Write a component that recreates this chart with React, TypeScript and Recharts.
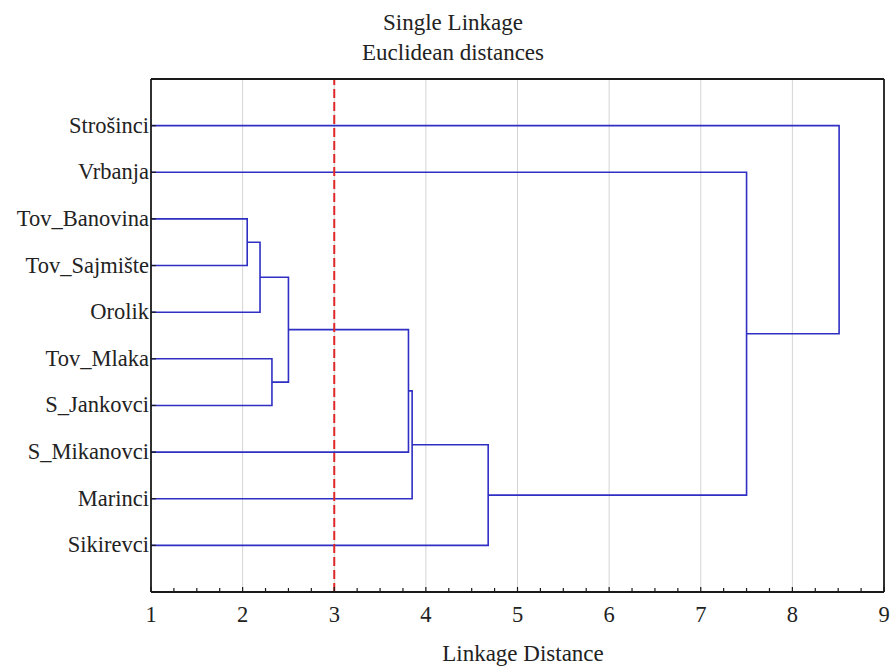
import React from 'react';
import { LineChart, Line, XAxis, YAxis, ReferenceLine } from 'recharts';

const leafNames = [
  'Strošinci',
  'Vrbanja',
  'Tov_Banovina',
  'Tov_Sajmište',
  'Orolik',
  'Tov_Mlaka',
  'S_Jankovci',
  'S_Mikanovci',
  'Marinci',
  'Sikirevci',
];

// merge steps: node ids < 10 are leaves, >= 10 are earlier merges (10 + step)
const mergeLeft = [2, 10, 5, 11, 13, 14, 15, 1, 0];
const mergeRight = [3, 4, 6, 12, 7, 8, 9, 16, 17];
const mergeDist = [2.05, 2.19, 2.32, 2.5, 3.81, 3.85, 4.68, 7.5, 8.51];

const majorTicks = [1, 2, 3, 4, 5, 6, 7, 8, 9];
const minorTicks = majorTicks.flatMap((t) => [t, t + 0.25, t + 0.5, t + 0.75]).filter((t) => t <= 9);
const leafTicks = leafNames.map((_, i) => i);
const cutDistance = 3;

const FONT = '"Liberation Serif", "Times New Roman", serif';
const BLUE = '#2f2fc4';
const AXIS = '#1a1a1a';

// build the U-shaped links of the dendrogram from the merge table
function buildLinks() {
  const nodeX: number[] = leafNames.map(() => 1);
  const nodeY: number[] = leafNames.map((_, i) => i);
  const links: { x: number; y: number }[][] = [];
  mergeDist.forEach((d, i) => {
    const a = mergeLeft[i];
    const b = mergeRight[i];
    links.push([
      { x: nodeX[a], y: nodeY[a] },
      { x: d, y: nodeY[a] },
      { x: d, y: nodeY[b] },
      { x: nodeX[b], y: nodeY[b] },
    ]);
    nodeX.push(d);
    nodeY.push((nodeY[a] + nodeY[b]) / 2);
  });
  return links;
}

const links = buildLinks();

const BottomTick = (props: any) => {
  const { x, y, payload } = props;
  const major = Number.isInteger(payload.value);
  return (
    <g>
      <line x1={x} x2={x} y1={y} y2={y - (major ? 5 : 4)} stroke={AXIS} strokeWidth={1.2} />
      {major && (
        <text x={x} y={y + 30} textAnchor="middle" fontFamily={FONT} fontSize={22.5} fill="#222">
          {payload.value}
        </text>
      )}
    </g>
  );
};

const TopTick = (props: any) => {
  const { x, y, payload } = props;
  const major = Number.isInteger(payload.value);
  return <line x1={x} x2={x} y1={y} y2={y + (major ? 5 : 4)} stroke={AXIS} strokeWidth={1.2} />;
};

const LeftTick = (props: any) => {
  const { x, y, payload } = props;
  return (
    <g>
      <line x1={x} x2={x + 5} y1={y} y2={y} stroke={AXIS} strokeWidth={1.2} />
      <text x={x - 2} y={y + 7} textAnchor="end" fontFamily={FONT} fontSize={22.5} fill="#222">
        {leafNames[payload.value]}
      </text>
    </g>
  );
};

const RightTick = (props: any) => {
  const { x, y } = props;
  return <line x1={x} x2={x - 5} y1={y} y2={y} stroke={AXIS} strokeWidth={1.2} />;
};

export default function App() {
  return (
    <div style={{ position: 'absolute', left: 0, top: 0, width: 892, height: 666, background: '#fff' }}>
      <svg width={892} height={80} style={{ position: 'absolute', left: 0, top: 0 }}>
        <text x={453} y={30} textAnchor="middle" fontFamily={FONT} fontSize={23} fill="#222">
          Single Linkage
        </text>
        <text x={453} y={60} textAnchor="middle" fontFamily={FONT} fontSize={23} fill="#222">
          Euclidean distances
        </text>
      </svg>
      <div style={{ position: 'absolute', left: 0, top: 0 }}>
        <LineChart width={892} height={666} margin={{ top: 78, right: 7, bottom: 34, left: 0 }}>
          <XAxis
            type="number"
            dataKey="x"
            domain={[1, 9]}
            ticks={minorTicks}
            interval={0}
            tickSize={0}
            tickMargin={0}
            tickLine={false}
            tick={<BottomTick />}
            axisLine={{ stroke: AXIS, strokeWidth: 1.8 }}
            height={40}
            allowDataOverflow
          />
          <XAxis
            xAxisId="top"
            orientation="top"
            type="number"
            domain={[1, 9]}
            ticks={minorTicks}
            interval={0}
            tickSize={0}
            tickMargin={0}
            tickLine={false}
            tick={<TopTick />}
            axisLine={{ stroke: AXIS, strokeWidth: 1.8 }}
            height={1}
          />
          <YAxis
            type="number"
            domain={[-1, 10]}
            reversed
            ticks={leafTicks}
            interval={0}
            tickSize={0}
            tickMargin={0}
            tickLine={false}
            tick={<LeftTick />}
            axisLine={{ stroke: AXIS, strokeWidth: 1.8 }}
            width={151}
            allowDataOverflow
          />
          <YAxis
            yAxisId="r"
            orientation="right"
            type="number"
            domain={[-1, 10]}
            reversed
            ticks={leafTicks}
            interval={0}
            tickSize={0}
            tickMargin={0}
            tickLine={false}
            tick={<RightTick />}
            axisLine={{ stroke: AXIS, strokeWidth: 1.8 }}
            width={1}
          />
          {majorTicks.slice(1, -1).map((t) => (
            <ReferenceLine key={'g' + t} x={t} stroke="#d4d4d4" strokeWidth={1} />
          ))}
          {links.map((pts, i) => (
            <Line
              key={'l' + i}
              data={pts}
              dataKey="y"
              type="linear"
              stroke={BLUE}
              strokeWidth={1.6}
              dot={false}
              activeDot={false}
              isAnimationActive={false}
            />
          ))}
          <ReferenceLine x={cutDistance} stroke="#e02828" strokeWidth={2} strokeDasharray="9 4" />
          <text x={523} y={661} textAnchor="middle" fontFamily={FONT} fontSize={23} fill="#222">
            Linkage Distance
          </text>
        </LineChart>
      </div>
    </div>
  );
}
